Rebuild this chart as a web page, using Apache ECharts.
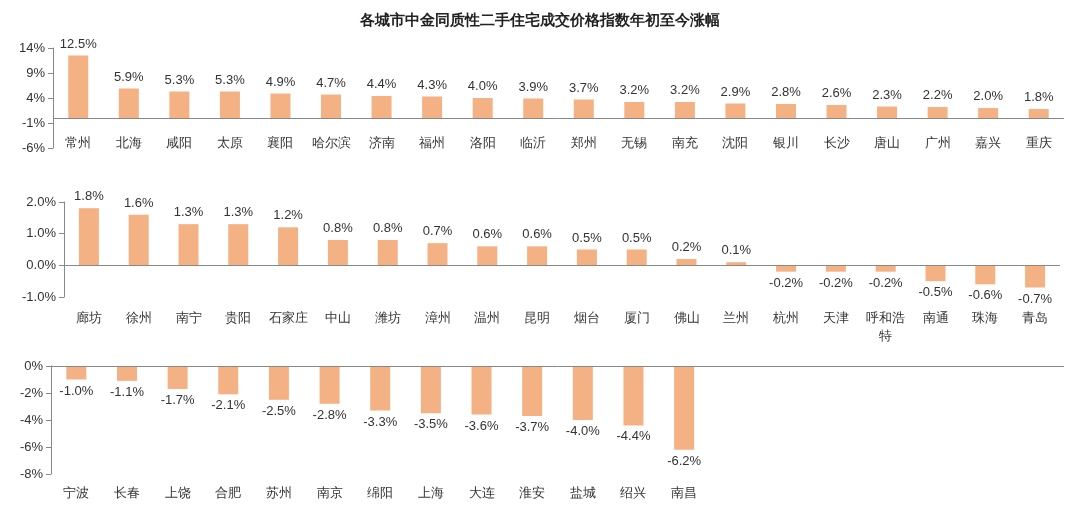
<!DOCTYPE html>
<html>
<head>
<meta charset="utf-8">
<script src="https://cdn.jsdelivr.net/npm/echarts@6/dist/echarts.min.js"></script>
<style>
	html, body { margin: 0; padding: 0; background: #fff; }
	#main { width: 1080px; height: 511px; }
</style>
</head>
<body>
<div id="main"></div>
<script>
	// 数据
	var cities1 = ['常州', '北海', '咸阳', '太原', '襄阳', '哈尔滨', '济南', '福州', '洛阳', '临沂', '郑州', '无锡', '南充', '沈阳', '银川', '长沙', '唐山', '广州', '嘉兴', '重庆'];
	var values1 = [12.5, 5.9, 5.3, 5.3, 4.9, 4.7, 4.4, 4.3, 4.0, 3.9, 3.7, 3.2, 3.2, 2.9, 2.8, 2.6, 2.3, 2.2, 2.0, 1.8];
	var cities2 = ['廊坊', '徐州', '南宁', '贵阳', '石家庄', '中山', '潍坊', '漳州', '温州', '昆明', '烟台', '厦门', '佛山', '兰州', '杭州', '天津', '呼和浩\n特', '南通', '珠海', '青岛'];
	var values2 = [1.8, 1.6, 1.3, 1.3, 1.2, 0.8, 0.8, 0.7, 0.6, 0.6, 0.5, 0.5, 0.2, 0.1, -0.2, -0.2, -0.2, -0.5, -0.6, -0.7];
	var cities3 = ['宁波', '长春', '上饶', '合肥', '苏州', '南京', '绵阳', '上海', '大连', '淮安', '盐城', '绍兴', '南昌', '', '', '', '', '', '', ''];
	var values3 = [-1.0, -1.1, -1.7, -2.1, -2.5, -2.8, -3.3, -3.5, -3.6, -3.7, -4.0, -4.4, -6.2];

	var barColor = '#F4B183',
		textColor = '#333';

	// 每一行的网格
	var grids = [
		{ left: 53, right: 16, top: 48, height: 100 },
		{ left: 64, right: 20, top: 202, height: 95 },
		{ left: 51, right: 16, top: 366, height: 108 }
	];
	var yRanges = [
		{ min: -6, max: 14, interval: 5, dec: 0 },
		{ min: -1, max: 2, interval: 1, dec: 1 },
		{ min: -8, max: 0, interval: 2, dec: 0 }
	];
	var labelMargins = [-14, 12, 10];
	var cats = [cities1, cities2, cities3],
		vals = [values1, values2, values3];

	var xAxes = [], yAxes = [], series = [];
	cats.forEach(function(c, i) {
		xAxes.push({
			type: 'category', gridIndex: i, data: c,
			axisLine: { onZero: false, show: false }, axisTick: { show: false },
			axisLabel: { color: textColor, fontSize: 13, interval: 0, margin: labelMargins[i], lineHeight: 18 }
		});
		yAxes.push({
			type: 'value', gridIndex: i, min: yRanges[i].min, max: yRanges[i].max, interval: yRanges[i].interval,
			splitLine: { show: false },
			axisLine: { show: true, lineStyle: { color: '#888' } },
			axisTick: { show: true, lineStyle: { color: '#888' } },
			axisLabel: {
				color: textColor, fontSize: 13,
				formatter: (function(d) { return function(v) { return v.toFixed(d) + '%'; }; })(yRanges[i].dec)
			}
		});
		series.push({
			type: 'bar', xAxisIndex: i, yAxisIndex: i, barWidth: 20,
			itemStyle: { color: barColor },
			data: vals[i].map(function(v) {
				return { value: v, label: { position: v < 0 ? 'bottom' : 'top' } };
			}),
			label: {
				show: true, color: textColor, fontSize: 13, distance: 5,
				formatter: function(p) { return p.value.toFixed(1) + '%'; }
			},
			markLine: {
				silent: true, symbol: 'none', label: { show: false },
				lineStyle: { color: '#888', type: 'solid', width: 1 },
				data: [{ yAxis: 0 }]
			}
		});
	});

	var myChart = echarts.init(document.getElementById('main'));
	myChart.setOption({
		animation: false,
		title: {
			text: '各城市中金同质性二手住宅成交价格指数年初至今涨幅',
			left: 'center', top: 8,
			textStyle: { fontSize: 15, fontWeight: 'bold', color: '#222' }
		},
		grid: grids,
		xAxis: xAxes,
		yAxis: yAxes,
		series: series
	});
</script>
</body>
</html>
